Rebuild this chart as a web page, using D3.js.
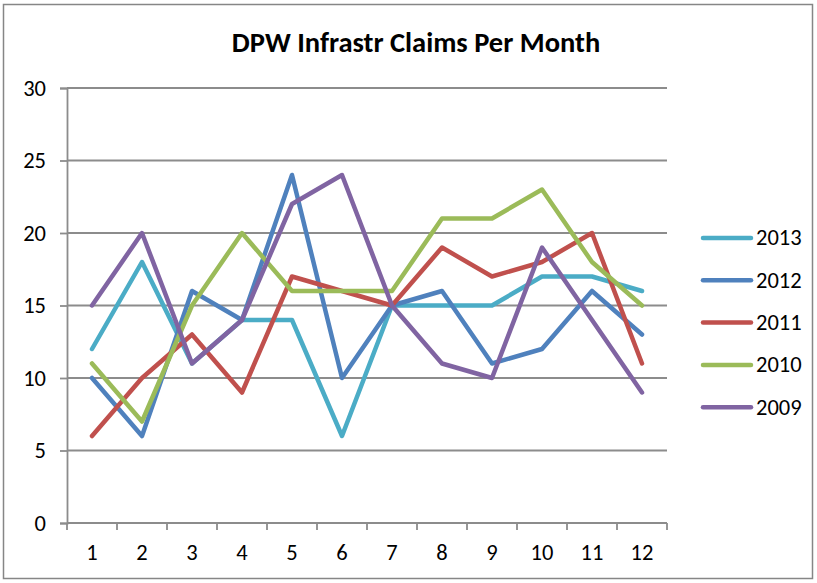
<!DOCTYPE html>
<html>
<head>
<meta charset="utf-8">
<script src="https://cdn.jsdelivr.net/npm/d3@7"></script>
<style>
    body { margin: 0; background: #fff; }
    text { font-family: Carlito, Lato, "Open Sans", sans-serif; fill: #000; }
</style>
</head>
<body>
<script>
// chart values
var months = ["1", "2", "3", "4", "5", "6", "7", "8", "9", "10", "11", "12"];
var years = ["2013", "2012", "2011", "2010", "2009"];
var colors = ["#4bacc6", "#4f81bd", "#c0504d", "#9bbb59", "#8064a2"];
var yTicks = [0, 5, 10, 15, 20, 25, 30];

var v2013 = [12, 18, 11, 14, 14, 6, 15, 15, 15, 17, 17, 16];
var v2012 = [10, 6, 16, 14, 24, 10, 15, 16, 11, 12, 16, 13];
var v2011 = [6, 10, 13, 9, 17, 16, 15, 19, 17, 18, 20, 11];
var v2010 = [11, 7, 15, 20, 16, 16, 16, 21, 21, 23, 18, 15];
var v2009 = [15, 20, 11, 14, 22, 24, 15, 11, 10, 19, 14, 9];

var seriesValues = [v2013, v2012, v2011, v2010, v2009];

var W = 817, H = 583;
var plot = {left: 67, right: 667, top: 88, bottom: 523};

var svg = d3.select("body").append("svg")
    .attr("width", W)
    .attr("height", H);

// outer chart border
svg.append("rect")
    .attr("x", 3.5)
    .attr("y", 4.5)
    .attr("width", 809)
    .attr("height", 574)
    .style("fill", "#fff")
    .style("stroke", "#868686")
    .style("stroke-width", 1.5);

var x = d3.scalePoint().domain(months)
    .range([plot.left, plot.right]).padding(0.5);
var xEdge = d3.scaleLinear().domain([0, months.length])
    .range([plot.left, plot.right]);
var y = d3.scaleLinear().domain([0, 30])
    .range([plot.bottom, plot.top]);

// horizontal gridlines
svg.append("g").selectAll("line")
    .data(yTicks.filter(function(d){ return d > 0; }))
    .enter().append("line")
    .attr("x1", plot.left)
    .attr("x2", plot.right)
    .attr("y1", function(d){ return y(d); })
    .attr("y2", function(d){ return y(d); })
    .style("stroke", "#8c8c8c")
    .style("stroke-width", 1.8);

// y axis
var yAxis = d3.axisLeft(y).tickValues(yTicks).tickSize(7).tickPadding(14);
var gy = svg.append("g")
    .attr("transform", "translate(" + plot.left + ",0)")
    .call(yAxis);
gy.select(".domain").style("stroke", "#8c8c8c").style("stroke-width", 1.8);
gy.selectAll(".tick line").style("stroke", "#8c8c8c").style("stroke-width", 1.8);
gy.selectAll(".tick text").style("font-size", "22.5px").attr("dy", "0.33em");

// x axis: ticks sit on category edges, labels in the middle
var gx = svg.append("g")
    .attr("transform", "translate(0," + plot.bottom + ")");
gx.append("line")
    .attr("x1", plot.left)
    .attr("x2", plot.right)
    .style("stroke", "#8c8c8c")
    .style("stroke-width", 1.8);
gx.selectAll(".edge")
    .data(d3.range(months.length + 1))
    .enter().append("line")
    .attr("class", "edge")
    .attr("x1", function(d){ return xEdge(d); })
    .attr("x2", function(d){ return xEdge(d); })
    .attr("y1", 0)
    .attr("y2", 7)
    .style("stroke", "#8c8c8c")
    .style("stroke-width", 1.8);
gx.selectAll(".lbl")
    .data(months)
    .enter().append("text")
    .attr("class", "lbl")
    .attr("x", function(d){ return x(d); })
    .attr("y", 37)
    .attr("text-anchor", "middle")
    .style("font-size", "22.5px")
    .text(function(d){ return d; });

// series lines
var line = d3.line()
    .x(function(d, i){ return x(months[i]); })
    .y(function(d){ return y(d); });

svg.append("g").selectAll("path")
    .data(seriesValues)
    .enter().append("path")
    .attr("d", line)
    .style("fill", "none")
    .style("stroke", function(d, i){ return colors[i]; })
    .style("stroke-width", 4.5)
    .style("stroke-linejoin", "round")
    .style("stroke-linecap", "round");

// title
svg.append("text")
    .attr("x", 416)
    .attr("y", 52)
    .attr("text-anchor", "middle")
    .style("font-size", "28.5px")
    .style("font-weight", "bold")
    .text("DPW Infrastr Claims Per Month");

// legend
var legend = svg.append("g").selectAll("g")
    .data(years)
    .enter().append("g")
    .attr("transform", function(d, i){
        return "translate(703," + (238 + i * 42.3) + ")";
    });
legend.append("line")
    .attr("x1", 0)
    .attr("x2", 48)
    .style("stroke", function(d, i){ return colors[i]; })
    .style("stroke-width", 4.5)
    .style("stroke-linecap", "round");
legend.append("text")
    .attr("x", 53)
    .attr("dy", "0.33em")
    .style("font-size", "22.5px")
    .text(function(d){ return d; });
</script>
</body>
</html>
